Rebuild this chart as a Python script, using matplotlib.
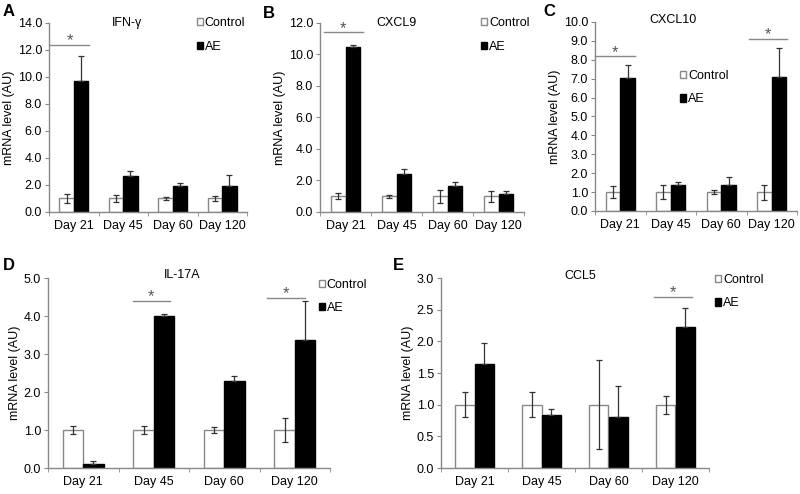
import matplotlib
matplotlib.use('Agg')
import matplotlib.pyplot as plt
import numpy as np

plt.rcParams['font.family'] = ['Liberation Sans', 'DejaVu Sans']

days = ['Day 21', 'Day 45', 'Day 60', 'Day 120']

# IFN-gamma
ifn_ctrl = [1.0, 1.0, 1.0, 1.0]
ifn_ctrl_err = [0.35, 0.25, 0.12, 0.2]
ifn_ae = [9.7, 2.7, 1.9, 1.9]
ifn_ae_err = [1.85, 0.3, 0.28, 0.85]

# CXCL9
cxcl9_ctrl = [1.0, 1.0, 1.0, 1.0]
cxcl9_ctrl_err = [0.2, 0.1, 0.4, 0.35]
cxcl9_ae = [10.5, 2.4, 1.65, 1.15]
cxcl9_ae_err = [0.1, 0.3, 0.25, 0.2]

# CXCL10
cxcl10_ctrl = [1.0, 1.0, 1.0, 1.0]
cxcl10_ctrl_err = [0.3, 0.35, 0.1, 0.4]
cxcl10_ae = [7.05, 1.4, 1.35, 7.1]
cxcl10_ae_err = [0.68, 0.12, 0.45, 1.52]

# IL-17A
il17_ctrl = [1.0, 1.0, 1.0, 1.0]
il17_ctrl_err = [0.1, 0.1, 0.08, 0.32]
il17_ae = [0.1, 4.0, 2.3, 3.37]
il17_ae_err = [0.08, 0.06, 0.12, 1.02]

# CCL5
ccl5_ctrl = [1.0, 1.0, 1.0, 1.0]
ccl5_ctrl_err = [0.2, 0.2, 0.7, 0.14]
ccl5_ae = [1.65, 0.83, 0.8, 2.23]
ccl5_ae_err = [0.32, 0.1, 0.5, 0.3]

gray = '#888888'
fs = 9


def panel(rect, ctrl, ctrl_err, ae, ae_err, ymax, ystep, title, title_pos,
          leg_pos, sig):
    ax = fig.add_axes(rect)
    x = np.arange(len(days))
    w = 0.29
    b1 = ax.bar(x - w / 2, ctrl, w, color='white', edgecolor=gray, linewidth=1.0,
                label='Control', zorder=2)
    b2 = ax.bar(x + w / 2, ae, w, color='black', edgecolor='black', linewidth=1.0,
                label='AE', zorder=2)
    ax.errorbar(x - w / 2, ctrl, yerr=ctrl_err, fmt='none', ecolor='#333333',
                elinewidth=0.9, capsize=2.2, capthick=0.9, zorder=3)
    # only the upper half shows above the black bars
    ax.errorbar(x + w / 2, ae, yerr=[np.zeros(len(ae)), ae_err], fmt='none',
                ecolor='#333333', elinewidth=0.9, capsize=2.2, capthick=0.9, zorder=3)
    ax.set_xlim(-0.5, 3.5)
    ax.set_ylim(0, ymax)
    ax.set_yticks(np.arange(0, ymax + ystep / 2, ystep))
    ax.yaxis.set_major_formatter(matplotlib.ticker.FormatStrFormatter('%.1f'))
    ax.set_xticks(x)
    ax.set_xticklabels(days)
    ax.set_xticks(np.arange(-0.5, 4.0, 1.0), minor=True)
    ax.tick_params(axis='x', which='major', length=0, labelsize=fs, pad=6)
    ax.tick_params(axis='x', which='minor', length=3, color=gray, direction='out')
    ax.tick_params(axis='y', length=3, color=gray, labelsize=fs, pad=2)
    for s in ['top', 'right']:
        ax.spines[s].set_visible(False)
    for s in ['left', 'bottom']:
        ax.spines[s].set_color(gray)
        ax.spines[s].set_linewidth(1.0)
    ax.set_ylabel('mRNA level (AU)', fontsize=fs, labelpad=2)
    ax.text(title_pos[0], title_pos[1], title, transform=ax.transAxes,
            ha='center', va='center', fontsize=fs)
    ax.legend(handles=[b1, b2], loc='upper left', bbox_to_anchor=leg_pos,
              frameon=False, fontsize=fs, handlelength=0.5, handleheight=0.5,
              handletextpad=0.15, labelspacing=0.9, borderpad=0, borderaxespad=0)
    for x0, x1, yl, ys in sig:
        ax.plot([x0, x1], [yl, yl], color=gray, linewidth=1.0, clip_on=False)
        ax.text((x0 + x1) / 2, ys, '*', ha='center', va='center', fontsize=12,
                color='#555555')
    return ax


fig = plt.figure(figsize=(8, 4.94), dpi=100)

panel([0.06125, 0.5709, 0.2475, 0.3826], ifn_ctrl, ifn_ctrl_err, ifn_ae, ifn_ae_err,
      14.0, 2.0, 'IFN-γ', (0.394, 1.0), (0.745, 1.03),
      [(-0.47, 0.31, 12.4, 12.7)])
panel([0.4, 0.5709, 0.255, 0.3826], cxcl9_ctrl, cxcl9_ctrl_err, cxcl9_ae, cxcl9_ae_err,
      12.0, 2.0, 'CXCL9', (0.377, 1.0), (0.79, 1.03),
      [(-0.42, 0.34, 11.4, 11.65)])
panel([0.74375, 0.5729, 0.2525, 0.3826], cxcl10_ctrl, cxcl10_ctrl_err, cxcl10_ae,
      cxcl10_ae_err, 10.0, 1.0, 'CXCL10', (0.386, 1.01), (0.42, 0.745),
      [(-0.5, 0.29, 8.2, 8.4), (2.55, 3.31, 9.12, 9.35)])
panel([0.06, 0.0526, 0.3525, 0.3846], il17_ctrl, il17_ctrl_err, il17_ae, il17_ae_err,
      5.0, 1.0, 'IL-17A', (0.475, 1.016), (0.96, 0.995),
      [(0.70, 1.23, 4.4, 4.52), (2.61, 3.15, 4.48, 4.6)])
panel([0.55125, 0.0526, 0.335, 0.3846], ccl5_ctrl, ccl5_ctrl_err, ccl5_ae, ccl5_ae_err,
      3.0, 0.5, 'CCL5', (0.519, 1.01), (1.022, 1.02),
      [(2.68, 3.24, 2.7, 2.77)])

for lab, px, py in [('A', 3, 12), ('B', 263, 14), ('C', 543, 11), ('D', 3, 265),
                    ('E', 393, 265)]:
    fig.text(px / 800, 1 - py / 494, lab, fontsize=12, fontweight='bold',
             ha='left', va='center')

fig.savefig('out.png', dpi=100)
